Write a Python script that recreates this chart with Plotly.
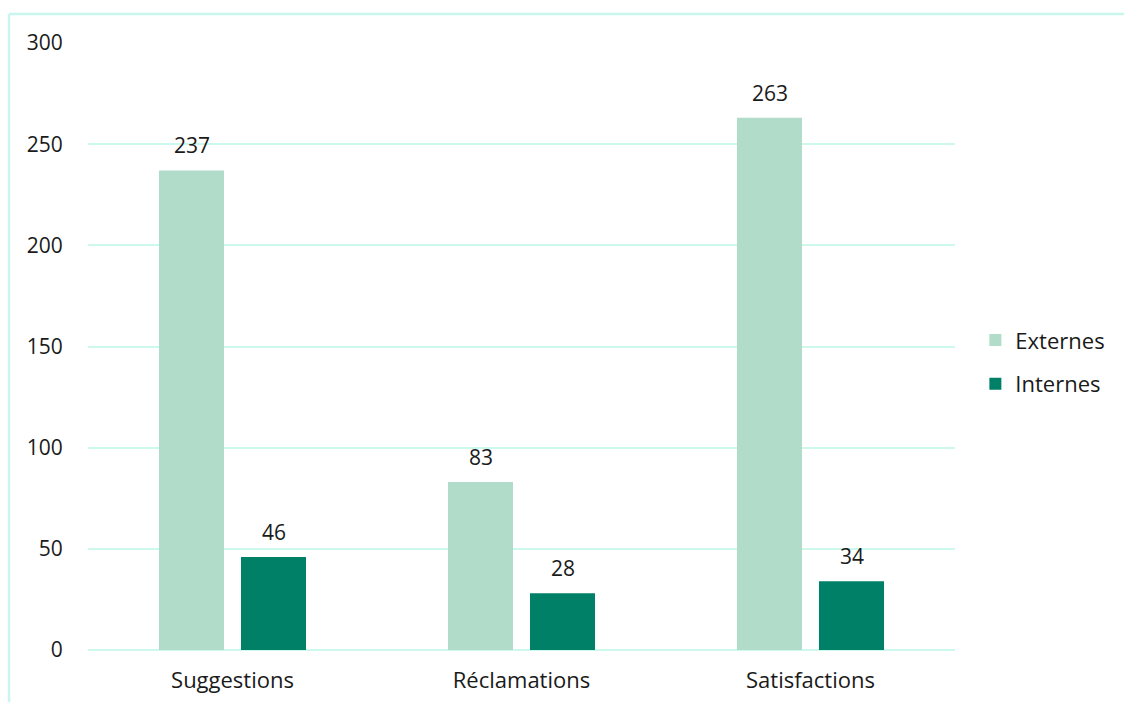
import plotly.graph_objects as go

categories = ["Suggestions", "Réclamations", "Satisfactions"]
externes = [237, 83, 263]
internes = [46, 28, 34]
y_ticks = [0, 50, 100, 150, 200, 250, 300]

C_EXT = "#b1dcc9"
C_INT = "#008066"
GRID = "#ccf8ee"
BORDER = "#c9f7ee"
TXT = "#1a1a1a"
FONT = "'Open Sans', sans-serif"
FS = 22

fig = go.Figure()
fig.add_trace(go.Bar(name="Externes", x=categories, y=externes, marker_color=C_EXT,
                     legendgroup="a", marker_line_width=0))
fig.add_trace(go.Bar(name="Internes", x=categories, y=internes, marker_color=C_INT,
                     legendgroup="b", marker_line_width=0))

# value labels above bars
for vals, xs in ((externes, -41), (internes, 41)):
    for c, v in zip(categories, vals):
        fig.add_annotation(x=c, y=v, text=str(v), showarrow=False, xref="x", yref="y",
                           yanchor="bottom", xshift=xs, yshift=9,
                           font=dict(size=21, family=FONT, color=TXT))

fig.update_layout(
    width=1124, height=702,
    margin=dict(l=88, r=169, t=43, b=52),
    paper_bgcolor="white", plot_bgcolor="white",
    barmode="group", bargap=0.4325, bargroupgap=0.207,
    font=dict(family=FONT, size=FS, color=TXT),
    legend=dict(x=1.0235, y=0.474, xanchor="left", yanchor="middle",
                font=dict(size=FS, family=FONT, color=TXT),
                traceorder="grouped", tracegroupgap=12, itemwidth=30),
    showlegend=True,
)
fig.update_yaxes(range=[0, 300], tickvals=y_ticks, showgrid=True, gridcolor=GRID, gridwidth=2,
                 zeroline=True, zerolinecolor=GRID, zerolinewidth=2, showline=False,
                 ticks="outside", ticklen=20, tickcolor="rgba(0,0,0,0)", automargin=False,
                 tickfont=dict(size=21, family=FONT, color=TXT))
fig.update_xaxes(showgrid=False, showline=False, ticks="outside", ticklen=11, automargin=False,
                 tickcolor="rgba(0,0,0,0)", tickfont=dict(size=FS, family=FONT, color=TXT))

# outer chart border (top and left edges visible)
fig.add_shape(type="line", xref="paper", yref="paper", x0=-0.0911, x1=1.2, y0=1.0478, y1=1.0478,
              line=dict(color=BORDER, width=2.5))
fig.add_shape(type="line", xref="paper", yref="paper", x0=-0.0911, x1=-0.0911, y0=1.0478, y1=-0.1,
              line=dict(color=BORDER, width=2.5))

fig.write_html("out.html")
